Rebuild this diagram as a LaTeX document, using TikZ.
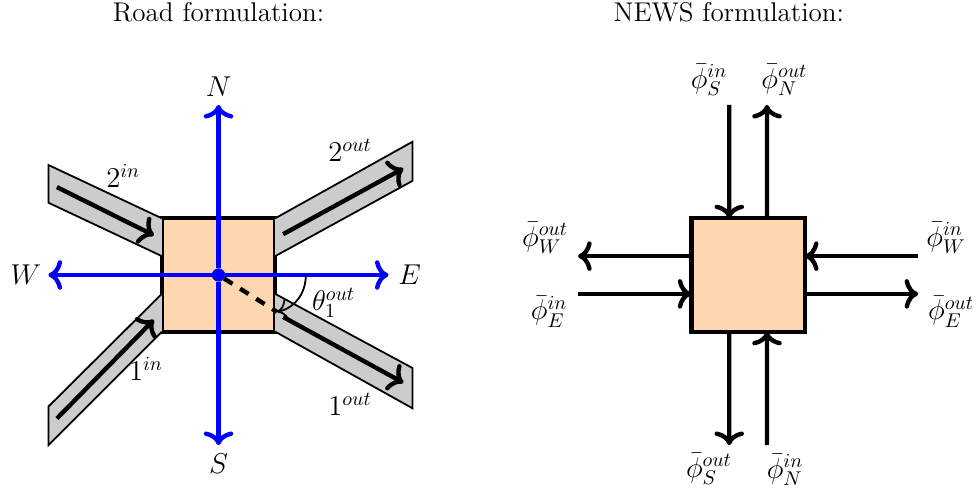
\documentclass[tikz,border=0pt]{standalone}
\usepackage{amsmath,amssymb}
\usepackage{xcolor}
\usetikzlibrary{arrows.meta,positioning}
\definecolor{junction}{RGB}{254,215,176}

\begin{document}
\begin{tikzpicture}[
  font=\fontsize{13.6}{16}\selectfont,
  junctionbox/.style={
    draw=black,
    fill=junction,
    line width=2.2pt,
    minimum size=2cm,
    inner sep=0pt,
    outer sep=0pt
  },
  road/.style={draw=black, fill=black!20, line width=0.9pt},
  flow/.style={-{Computer Modern Rightarrow[length=2.4mm,width=5.2mm]}, line width=2.2pt, draw=black},
  compass/.style={flow, draw=blue},
  lab/.style={inner sep=0pt, outer sep=0pt}
]
\useasboundingbox (-3.854,-3.774) rectangle (13.394,4.85);

% road formulation
\coordinate (r1ia) at (-3,-2.32);
\coordinate (r1ib) at (-3,-3);
\coordinate (r2ia) at (-3,1.94);
\coordinate (r2ib) at (-3,1.275);
\coordinate (r1oa) at (3.42,-1.64);
\coordinate (r1ob) at (3.42,-2.35);
\coordinate (r2oa) at (3.42,2.35);
\coordinate (r2ob) at (3.42,1.66);
\node[junctionbox] (road) at (0,0) {};
\draw[road] (road.north west) -- (r2ia) -- (r2ib) -- ([yshift=-0.667cm]road.north west);
\draw[road] (road.north east) -- (r2oa) -- (r2ob) -- ([yshift=-0.667cm]road.north east);
\draw[road] (road.south west) -- (r1ib) -- (r1ia) -- ([yshift=0.667cm]road.south west);
\draw[road] (road.south east) -- (r1ob) -- (r1oa) -- ([yshift=0.667cm]road.south east);

\coordinate (f1ia) at (-2.85,-2.53);
\coordinate (f1ib) at (-1.14,-0.79);
\coordinate (f2ia) at (-2.85,1.55);
\coordinate (f2ib) at (-1.14,0.70);
\coordinate (f1oa) at (1.14,-0.74);
\coordinate (f1ob) at (3.26,-1.9);
\coordinate (f2oa) at (1.14,0.72);
\coordinate (f2ob) at (3.26,1.88);
\draw[flow] (f1ia) -- (f1ib);
\draw[flow] (f2ia) -- (f2ib);
\draw[flow] (f1oa) -- (f1ob);
\draw[flow] (f2oa) -- (f2ob);

\node[draw=blue, fill=blue, circle, minimum size=0.22cm, inner sep=0pt] (origin) at (0,0) {};
\coordinate (north) at (0,3);
\coordinate (south) at (0,-3);
\coordinate (west) at (-3,0);
\coordinate (east) at (3,0);
\draw[compass] (origin) -- (north);
\draw[compass] (origin) -- (south);
\draw[compass] (origin) -- (west);
\draw[compass] (origin) -- (east);
\node[lab, above=0.14cm of north] (nlab) {$N$};
\node[lab, below=0.15cm of south] (slab) {$S$};
\node[lab, left=0.13cm of west] (wlab) {$W$};
\node[lab, right=0.17cm of east] (elab) {$E$};

\coordinate (angb) at (1.03,-0.65);
\coordinate (anga) at (1.54,0);
\draw[line width=2.2pt, dash pattern=on 5pt off 4.5pt] (origin) -- (angb);
\draw[-{Computer Modern Rightarrow[length=1.9mm,width=4mm]}, line width=0.9pt] (anga) to[out=-90, in=12] (angb);

\node[lab] (theta) at (2.03,-0.49) {$\theta_1^{out}$};
\node[lab] (in2) at (-1.68,1.75) {$2^{in}$};
\node[lab] (out2) at (2.32,2.2) {$2^{out}$};
\node[lab] (in1) at (-1.28,-1.66) {$1^{in}$};
\node[lab] (out1) at (2.32,-2.28) {$1^{out}$};
\node[lab] (roadtitle) at (0,4.63) {Road formulation:};

% NEWS formulation
\node[junctionbox, right=7.34cm of road] (news) {};
\coordinate (ntop) at (9.34,3);
\coordinate (nbot) at (9.34,-3);
\coordinate (nleft) at (6.34,0);
\coordinate (nright) at (12.34,0);
\draw[flow] ([xshift=-0.333cm]ntop) -- ([xshift=-0.333cm]news.north);
\draw[flow] ([xshift=0.333cm]news.north) -- ([xshift=0.333cm]ntop);
\draw[flow] ([xshift=-0.333cm]news.south) -- ([xshift=-0.333cm]nbot);
\draw[flow] ([xshift=0.333cm]nbot) -- ([xshift=0.333cm]news.south);
\draw[flow] ([yshift=0.333cm]news.west) -- ([yshift=0.333cm]nleft);
\draw[flow] ([yshift=-0.333cm]nleft) -- ([yshift=-0.333cm]news.west);
\draw[flow] ([yshift=0.333cm]nright) -- ([yshift=0.333cm]news.east);
\draw[flow] ([yshift=-0.333cm]news.east) -- ([yshift=-0.333cm]nright);

\node[lab] (sin) at (8.65,3.44) {$\bar\phi_S^{in}$};
\node[lab] (nout) at (9.98,3.44) {$\bar\phi_N^{out}$};
\node[lab] (sout) at (8.65,-3.42) {$\bar\phi_S^{out}$};
\node[lab] (nin) at (9.99,-3.44) {$\bar\phi_N^{in}$};
\node[lab] (wout) at (5.76,0.65) {$\bar\phi_W^{out}$};
\node[lab] (ein) at (5.83,-0.65) {$\bar\phi_E^{in}$};
\node[lab] (win) at (12.83,0.65) {$\bar\phi_W^{in}$};
\node[lab] (eout) at (12.92,-0.65) {$\bar\phi_E^{out}$};
\node[lab] (newstitle) at (9,4.63) {NEWS formulation:};
\end{tikzpicture}
\end{document}
